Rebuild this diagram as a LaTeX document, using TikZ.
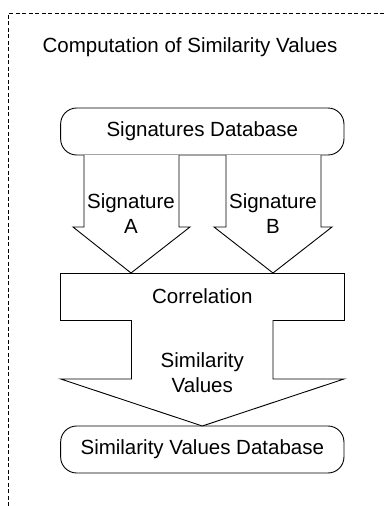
\documentclass[tikz,border=0pt]{standalone}
\usepackage{fontspec}
\setmainfont{Liberation Sans}
\begin{document}
\begin{tikzpicture}[x=1pt,y=-1pt,
  txt/.style={font=\fontsize{20.5}{25}\selectfont, inner sep=0pt, anchor=base},
  box/.style={draw, line width=0.9pt, minimum width=283.3pt, minimum height=47pt,
              inner sep=0pt, font=\fontsize{20.5}{25}\selectfont},
  db/.style={box, rounded corners=16pt},
  blockarrow/.style={draw, line width=0.9pt, fill=white, line join=miter},
  frame/.style={draw, line width=0.8pt, dash pattern=on 4pt off 2.5pt}
]
\useasboundingbox (0,0) rectangle (384,506);
% dashed frame
\draw[frame] (8,506) -- (8,13.5) -- (384,13.5);
% title
\node[txt] (title) at (190,52) {Computation of Similarity Values};
% boxes
\node[db]  (sigdb) at (202.3,131.5) {Signatures Database};
\node[box] (corr)  at (202.3,296.5) {Correlation};
\node[db]  (simdb) at (202.3,449.5) {Similarity Values Database};
% block arrow A
\coordinate (tipA) at (131,273);
\coordinate (tipB) at (273,273);
\coordinate (tipC) at (202.3,426);
\draw[blockarrow] (84,155) -- (84,227) -- (73,227) -- (tipA) -- (190,227) -- (179,227) -- (179,155);
\draw[blockarrow] (226,155) -- (226,227) -- (214,227) -- (tipB) -- (332,227) -- (321,227) -- (321,155);
\draw[blockarrow] (131.5,320) -- (131.5,379) -- (60.7,379) -- (tipC) -- (344,379) -- (273,379) -- (273,320);
% arrow labels
\node[txt] (sigA1) at (131,208) {Signature};
\node[txt] (sigA2) at (131,233) {A};
\node[txt] (sigB1) at (273,208) {Signature};
\node[txt] (sigB2) at (273,233) {B};
\node[txt] (sv1) at (202.3,367) {Similarity};
\node[txt] (sv2) at (202.3,392) {Values};
\end{tikzpicture}
\end{document}
